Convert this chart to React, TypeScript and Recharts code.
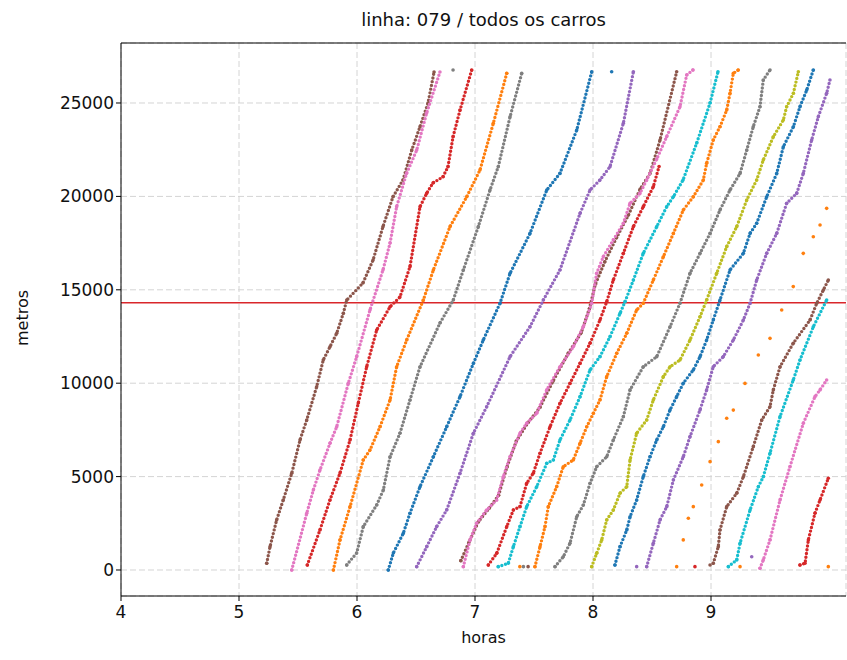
import { ScatterChart, Scatter, XAxis, YAxis, CartesianGrid, ReferenceLine } from 'recharts';

// each trip: [hour, metres]
const brown1: [number, number][] = [
  [5.235, 360], [5.263, 1250], [5.319, 2680], [5.375, 3750], [5.447, 5180], [5.517, 6960],
  [5.574, 8030], [5.658, 9810], [5.714, 11240], [5.771, 11950], [5.828, 12670], [5.884, 13740],
  [5.913, 14450], [6.05, 15360], [6.136, 16590], [6.22, 18380], [6.305, 19980], [6.39, 20880],
  [6.464, 22480], [6.534, 23730], [6.602, 25000], [6.653, 26660],
];
const pink1: [number, number][] = [
  [5.447, 0], [5.574, 3035], [5.63, 4280], [5.686, 5350], [5.771, 6780], [5.828, 7670],
  [5.926, 9990], [5.997, 11420], [6.11, 13920], [6.22, 16060], [6.28, 17500], [6.336, 19450],
  [6.42, 21230], [6.506, 22480], [6.59, 24460], [6.703, 26660],
];
const red1: [number, number][] = [
  [5.579, 270], [5.686, 2140], [5.771, 3750], [5.856, 5190], [5.941, 6960], [6.011, 8940],
  [6.082, 10880], [6.167, 12850], [6.28, 14090], [6.364, 14610], [6.449, 16240], [6.534, 19450],
  [6.59, 20160], [6.644, 20720], [6.729, 21050], [6.771, 21590], [6.814, 23190], [6.873, 24620],
  [6.972, 26760],
];
const orange1: [number, number][] = [
  [5.8, 0], [5.856, 1610], [5.941, 3390], [6.053, 5890], [6.11, 6420], [6.195, 7670],
  [6.28, 9100], [6.336, 10880], [6.421, 12310], [6.562, 14450], [6.647, 16060], [6.788, 18380],
  [6.93, 19980], [7.042, 21410], [7.155, 23910], [7.269, 26590],
];
const gray1: [number, number][] = [
  [5.913, 270], [5.997, 910], [6.053, 2320], [6.167, 3480], [6.223, 4280], [6.28, 6060],
  [6.364, 7320], [6.449, 9100], [6.534, 10880], [6.703, 13220], [6.816, 14450], [6.901, 16060],
  [7.028, 18380], [7.127, 20340], [7.197, 21590], [7.297, 24260], [7.396, 26590],
];
const blue1: [number, number][] = [
  [6.265, 0], [6.308, 910], [6.392, 1960], [6.449, 3040], [6.534, 4460], [6.647, 6060],
  [6.76, 7670], [6.873, 9280], [6.986, 11060], [7.07, 12310], [7.212, 14280], [7.297, 15880],
  [7.466, 18020], [7.608, 20340], [7.72, 21230], [7.862, 23550], [7.989, 26670],
];
const purple1: [number, number][] = [
  [6.506, 180], [6.591, 1250], [6.675, 2320], [6.76, 3210], [6.873, 5180], [6.986, 7320],
  [7.099, 8740], [7.297, 11420], [7.466, 13020], [7.579, 14450], [7.72, 16060], [7.89, 19090],
  [7.975, 20340], [8.059, 20880], [8.144, 21590], [8.257, 23910], [8.342, 26670],
];
const brown2: [number, number][] = [
  [6.88, 500], [6.95, 1500], [7.03, 2600], [7.12, 3300], [7.2, 4000], [7.27, 5500],
  [7.35, 6900], [7.45, 7900], [7.55, 8700], [7.66, 10100], [7.79, 11600], [7.9, 12700],
  [7.97, 14000], [8.02, 15300], [8.1, 16500], [8.2, 17800], [8.3, 19000], [8.4, 20400],
  [8.483, 21230], [8.568, 23020], [8.709, 26670],
];
const pink2: [number, number][] = [
  [6.901, 180], [6.958, 1610], [7.014, 2500], [7.099, 3210], [7.184, 3750], [7.24, 4990],
  [7.297, 6060], [7.381, 7320], [7.438, 7850], [7.523, 8390], [7.608, 9640], [7.72, 10880],
  [7.833, 11950], [7.918, 13020], [7.989, 14280], [8.031, 15880], [8.087, 16770], [8.172, 17670],
  [8.257, 18560], [8.314, 19630], [8.398, 20160], [8.455, 20880], [8.54, 22000], [8.624, 23190],
  [8.737, 24800], [8.794, 26500], [8.847, 26770],
];
const red2: [number, number][] = [
  [7.113, 270], [7.184, 890], [7.269, 2320], [7.325, 3210], [7.381, 3390], [7.438, 4640],
  [7.494, 5180], [7.551, 6250], [7.636, 7670], [7.72, 8920], [7.805, 9990], [7.89, 11060],
  [7.975, 12140], [8.059, 13380], [8.116, 14360], [8.172, 15520], [8.257, 16950], [8.342, 18380],
  [8.426, 19450], [8.511, 20520], [8.56, 21600],
];
const cyan1: [number, number][] = [
  [7.197, 180], [7.282, 360], [7.325, 1250], [7.381, 2320], [7.438, 3390], [7.523, 4460],
  [7.608, 5710], [7.664, 5890], [7.72, 6960], [7.805, 8030], [7.89, 9280], [7.975, 10710],
  [8.059, 11420], [8.144, 12490], [8.229, 13740], [8.271, 14360], [8.342, 15520], [8.426, 16950],
  [8.54, 18380], [8.625, 19450], [8.681, 19980], [8.763, 20880], [8.879, 22860], [8.992, 25000],
  [9.059, 26670],
];
const orange2: [number, number][] = [
  [7.508, 180], [7.551, 1250], [7.593, 2320], [7.621, 3390], [7.692, 4460], [7.748, 5530],
  [7.833, 5890], [7.89, 6780], [7.947, 7670], [8.003, 8390], [8.059, 9100], [8.116, 10350],
  [8.201, 11600], [8.286, 12670], [8.37, 13920], [8.426, 14280], [8.511, 15520], [8.596, 16770],
  [8.681, 18020], [8.765, 19270], [8.85, 19980], [8.935, 20880], [8.963, 21770], [9.019, 23020],
  [9.076, 23730], [9.133, 24620], [9.161, 25520], [9.189, 26590], [9.231, 26770],
];
const gray2: [number, number][] = [
  [7.678, 180], [7.748, 710], [7.805, 1430], [7.862, 2850], [7.918, 3480], [7.975, 4640],
  [8.031, 5530], [8.116, 6060], [8.172, 6960], [8.257, 8210], [8.314, 9640], [8.426, 10880],
  [8.54, 11420], [8.653, 13020], [8.737, 14280], [8.822, 15880], [8.907, 16950], [8.992, 18020],
  [9.076, 19270], [9.161, 20340], [9.246, 21230], [9.303, 22480], [9.358, 23730], [9.415, 24800],
  [9.443, 26230], [9.5, 26770],
];
const olive1: [number, number][] = [
  [7.989, 180], [8.031, 890], [8.074, 1610], [8.116, 2680], [8.172, 3210], [8.229, 4110],
  [8.286, 4460], [8.314, 5890], [8.37, 7320], [8.455, 8030], [8.511, 9100], [8.596, 10350],
  [8.653, 10880], [8.737, 11240], [8.822, 12310], [8.907, 13560], [8.963, 14450], [9.048, 15880],
  [9.133, 17310], [9.218, 18380], [9.303, 19810], [9.387, 20880], [9.443, 21950], [9.528, 23190],
  [9.613, 24090], [9.641, 24800], [9.698, 25520], [9.74, 26670],
];
const blue2: [number, number][] = [
  [8.186, 270], [8.229, 1250], [8.286, 2140], [8.314, 2850], [8.37, 3750], [8.426, 5000],
  [8.483, 6060], [8.54, 6960], [8.596, 7670], [8.653, 8570], [8.709, 9280], [8.765, 10000],
  [8.85, 10710], [8.907, 11420], [8.963, 12310], [9.019, 13380], [9.076, 14450], [9.161, 16060],
  [9.274, 16950], [9.331, 18020], [9.387, 18560], [9.472, 19980], [9.557, 21230], [9.613, 22660],
  [9.698, 23730], [9.754, 24800], [9.811, 25690], [9.867, 26770],
];
const purple2: [number, number][] = [
  [8.455, 180], [8.511, 1430], [8.568, 2680], [8.625, 3390], [8.681, 4820], [8.765, 6060],
  [8.822, 7140], [8.907, 8570], [8.963, 9640], [9.019, 10880], [9.104, 11420], [9.189, 12310],
  [9.274, 13380], [9.331, 14280], [9.387, 15520], [9.472, 16950], [9.557, 18020], [9.641, 19630],
  [9.726, 20160], [9.782, 21230], [9.853, 23020], [9.909, 24260], [9.98, 25520], [10.008, 26230],
];
const orange3: [number, number][] = [
  [8.709, 180], [8.765, 1610], [8.808, 2770], [8.85, 3390], [8.921, 4550], [8.992, 5800],
  [9.062, 6870], [9.133, 8120], [9.189, 8560], [9.288, 9990], [9.401, 11510], [9.5, 12400],
  [9.599, 13920], [9.697, 15170], [9.782, 16950], [9.867, 17840], [9.924, 18470], [9.98, 19360],
];
const brown3: [number, number][] = [
  [9.019, 360], [9.062, 1250], [9.076, 2140], [9.133, 3390], [9.218, 4110], [9.274, 4990],
  [9.358, 6600], [9.43, 8030], [9.5, 8740], [9.528, 9640], [9.585, 10880], [9.697, 12140],
  [9.839, 13380], [9.896, 14280], [9.952, 14990], [9.994, 15520],
];
const cyan2: [number, number][] = [
  [9.147, 180], [9.218, 540], [9.246, 1430], [9.331, 3210], [9.401, 4460], [9.443, 4990],
  [9.5, 6250], [9.585, 8210], [9.697, 10170], [9.754, 11240], [9.867, 13020], [9.98, 14450],
];
const pink3: [number, number][] = [
  [9.415, 90], [9.443, 540], [9.5, 1610], [9.585, 3750], [9.669, 5530], [9.782, 7850],
  [9.881, 9280], [9.924, 9640], [9.98, 10170],
];
const red3: [number, number][] = [
  [9.754, 270], [9.797, 360], [9.825, 1610], [9.881, 3040], [9.924, 3750], [9.994, 4910],
];
// loose points
const strayGray: [number, number][] = [[6.814, 26770], [7.41, 180]];
const strayBlue: [number, number][] = [[8.158, 26670]];
const strayOrange: [number, number][] = [[9.246, 180], [9.994, 180], [7.38, 180]];
const strayRed: [number, number][] = [[8.864, 180]];
const strayBrown: [number, number][] = [[8.992, 270], [7.45, 180]];
const strayPurple: [number, number][] = [[9.345, 710], [8.37, 180]];

const xTicks = [4, 5, 6, 7, 8, 9];
const yTicks = [0, 5000, 10000, 15000, 20000, 25000];
const limiar = 14300;

const tab = {
  blue: '#1f77b4', orange: '#ff7f0e', red: '#d62728', purple: '#9467bd', brown: '#8c564b',
  pink: '#e377c2', gray: '#7f7f7f', olive: '#bcbd22', cyan: '#17becf',
};

const trips = [
  { pts: brown1, color: tab.brown }, { pts: pink1, color: tab.pink }, { pts: red1, color: tab.red },
  { pts: orange1, color: tab.orange }, { pts: gray1, color: tab.gray }, { pts: blue1, color: tab.blue },
  { pts: purple1, color: tab.purple }, { pts: brown2, color: tab.brown }, { pts: pink2, color: tab.pink },
  { pts: red2, color: tab.red }, { pts: cyan1, color: tab.cyan }, { pts: orange2, color: tab.orange },
  { pts: gray2, color: tab.gray }, { pts: olive1, color: tab.olive }, { pts: blue2, color: tab.blue },
  { pts: purple2, color: tab.purple }, { pts: brown3, color: tab.brown }, { pts: cyan2, color: tab.cyan },
  { pts: pink3, color: tab.pink }, { pts: red3, color: tab.red },
];
const loose = [
  { pts: orange3, color: tab.orange }, { pts: strayGray, color: tab.gray }, { pts: strayBlue, color: tab.blue },
  { pts: strayOrange, color: tab.orange }, { pts: strayRed, color: tab.red }, { pts: strayBrown, color: tab.brown },
  { pts: strayPurple, color: tab.purple },
];

const font = "'DejaVu Sans', sans-serif";

const toRows = (pts: [number, number][]) => pts.map(([h, m]) => ({ h, m }));

const dot = (color: string) => (props: any) =>
  <circle cx={props.cx} cy={props.cy} r={1.8} fill={color} />;

export default function App() {
  return (
    <div style={{ position: 'absolute', left: 0, top: 0, width: 847, height: 660, background: '#fff', fontFamily: font }}>
      <div style={{ position: 'absolute', left: 121, width: 725, top: 9, textAlign: 'center', fontSize: 18, color: '#111' }}>
        linha: 079 / todos os carros
      </div>
      <div style={{ position: 'absolute', left: 121, width: 725, top: 628, textAlign: 'center', fontSize: 16, color: '#111' }}>
        horas
      </div>
      <div style={{ position: 'absolute', left: 22, top: 318, transform: 'translate(-50%, -50%) rotate(-90deg)', fontSize: 16, color: '#111' }}>
        metros
      </div>
      <ScatterChart width={847} height={660} margin={{ top: 43, right: 1, left: 0, bottom: 0 }}>
        <CartesianGrid stroke='#d4d4d4' strokeDasharray='6 3' />
        <XAxis
          type='number'
          dataKey='h'
          domain={[4, 10.144]}
          ticks={xTicks}
          allowDataOverflow
          height={64}
          tickSize={5}
          tick={{ fontSize: 17, fill: '#111', fontFamily: font, dy: 3 }}
          stroke='#000'
        />
        <YAxis
          type='number'
          dataKey='m'
          domain={[-1392, 28212]}
          ticks={yTicks}
          allowDataOverflow
          width={121}
          tickSize={5}
          tick={{ fontSize: 17, fill: '#111', fontFamily: font }}
          stroke='#000'
        />
        <ReferenceLine y={28212} stroke='#000' strokeWidth={1.2} />
        {trips.map((t, i) => (
          <Scatter
            key={'t' + i}
            data={toRows(t.pts)}
            fill={t.color}
            shape={dot(t.color)}
            line={{ stroke: t.color, strokeWidth: 3.4, strokeDasharray: '0 3.8', strokeLinecap: 'round' }}
            isAnimationActive={false}
          />
        ))}
        {loose.map((t, i) => (
          <Scatter key={'l' + i} data={toRows(t.pts)} fill={t.color} shape={dot(t.color)} isAnimationActive={false} />
        ))}
        <ReferenceLine y={limiar} stroke='#d9262b' strokeWidth={1.5} />
      </ScatterChart>
    </div>
  );
}
